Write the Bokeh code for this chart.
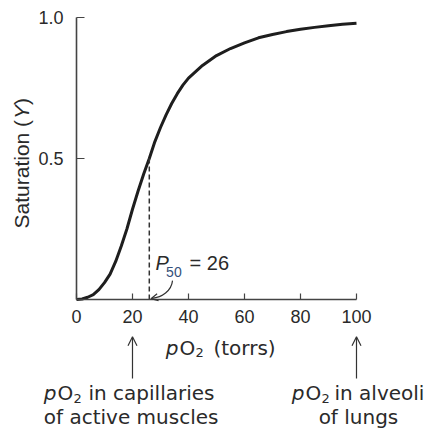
import math
from bokeh.plotting import figure
from bokeh.models import Label, Arrow, OpenHead, FixedTicker, Range1d, LinearAxis
from bokeh.embed import file_html
from bokeh.resources import INLINE

# ---- data ----
po2 = [0, 2, 4, 6, 8, 10, 12, 14, 16, 18, 20, 22, 24, 26, 28, 30, 32, 34, 36, 38, 40,
       45, 50, 55, 60, 65, 70, 75, 80, 85, 90, 95, 100]
saturation = [0, 0.002, 0.008, 0.017, 0.035, 0.06, 0.09, 0.135, 0.19, 0.25, 0.32, 0.385,
              0.445, 0.5, 0.56, 0.61, 0.655, 0.695, 0.73, 0.76, 0.785,
              0.83, 0.865, 0.89, 0.91, 0.928, 0.94, 0.95, 0.958, 0.965, 0.971, 0.976, 0.98]
x_ticks = [0, 20, 40, 60, 80, 100]
y_ticks = [0.5, 1.0]
y_tick_labels = {0.5: "0.5", 1.0: "1.0"}
P50 = 26
Y50 = 0.5
capillary_po2 = 20
alveoli_po2 = 100

TXT = "#2a2a2a"
AX = "#444444"

p = figure(width=430, height=430, output_backend="svg", toolbar_location=None,
           x_range=Range1d(-27.14, 126.43), y_range=Range1d(-0.4645, 1.0603),
           x_axis_location=None, y_axis_location=None,
           min_border=0, min_border_left=0, min_border_right=0,
           min_border_top=0, min_border_bottom=0)
p.outline_line_color = None
p.grid.grid_line_color = None
p.background_fill_color = "white"
p.border_fill_color = "white"

xa = LinearAxis(fixed_location=0, bounds=(0, 100))
xa.ticker = FixedTicker(ticks=x_ticks)
xa.major_tick_in = 6
xa.major_tick_out = 0
xa.minor_tick_line_color = None
xa.axis_line_color = AX
xa.axis_line_width = 1.6
xa.major_tick_line_color = AX
xa.major_tick_line_width = 1.2
xa.major_label_text_font = "Liberation Sans"
xa.major_label_text_font_size = "18px"
xa.major_label_text_color = TXT
xa.major_label_standoff = 10
p.add_layout(xa, "below")

ya = LinearAxis(fixed_location=0, bounds=(0, 1))
ya.ticker = FixedTicker(ticks=y_ticks)
ya.major_label_overrides = y_tick_labels
ya.major_tick_in = 8
ya.major_tick_out = 0
ya.minor_tick_line_color = None
ya.axis_line_color = AX
ya.axis_line_width = 1.6
ya.major_tick_line_color = AX
ya.major_tick_line_width = 1.2
ya.major_label_text_font = "Liberation Sans"
ya.major_label_text_font_size = "18px"
ya.major_label_text_color = TXT
ya.major_label_standoff = 13
p.add_layout(ya, "left")

# curve
p.line(po2, saturation, line_color="#1e1e1e", line_width=3)
# dashed P50 line
p.segment(x0=[P50], y0=[0], x1=[P50], y1=[Y50], line_color="#333333", line_width=1.5,
          line_dash="5 3")

# P50 label
p.add_layout(Label(x=28.2, y=0.131, text="P", text_font="Liberation Sans", text_font_style="italic",
                   text_font_size="20px", text_color=TXT, text_baseline="middle", text_align="left"))
p.add_layout(Label(x=32.0, y=0.096, text="50", text_font="Liberation Sans",
                   text_font_size="14px", text_color="#34507a", text_baseline="middle", text_align="left"))
p.add_layout(Label(x=40.4, y=0.131, text="= 26", text_font="Liberation Sans",
                   text_font_size="20px", text_color=TXT, text_baseline="middle", text_align="left"))
# curved leader
p.bezier(x0=[34.3], y0=[0.067], x1=[27.0], y1=[0.004], cx0=[33.9], cy0=[0.03], cx1=[30.5], cy1=[0.008],
         line_color="#333333", line_width=1.2)
p.add_layout(Arrow(end=OpenHead(size=7, line_width=1.2, line_color="#333333"),
                   x_start=28.5, y_start=0.007, x_end=26.6, y_end=0.003, line_alpha=0))

base = dict(text_font="DejaVu Sans", text_font_size="20px", text_color=TXT, text_baseline="middle")
sub = dict(text_font="DejaVu Sans", text_font_size="13px", text_color=TXT, text_baseline="middle")


def po2_text(x_p, x_o, x_2, x_rest, y, y_sub, rest):
    p.add_layout(Label(x=x_p, y=y, text="p", text_font_style="italic", text_align="right", **base))
    p.add_layout(Label(x=x_o, y=y, text="O", text_align="left", **base))
    p.add_layout(Label(x=x_2, y=y_sub, text="2", text_align="left", **sub))
    p.add_layout(Label(x=x_rest, y=y, text=rest, text_align="left", **base))


# x axis title: pO2 (torrs)
po2_text(36.43, 36.8, 42.5, 48.9, -0.172, -0.188, "(torrs)")

# y axis title: Saturation (Y)
ylab_x = -19.6
ylab = dict(text_font="Liberation Sans", text_font_size="21px", text_color=TXT,
            text_baseline="middle", text_align="left", angle=math.pi / 2)
p.add_layout(Label(x=ylab_x, y=0.252, text="Saturation (", **ylab))
p.add_layout(Label(x=ylab_x, y=0.64, text="Y", text_font_style="italic", **ylab))
p.add_layout(Label(x=ylab_x, y=0.69, text=")", **ylab))

# arrows
for xv in (capillary_po2, alveoli_po2):
    p.add_layout(Arrow(end=OpenHead(size=9, line_width=1.2, line_color="#333333"),
                       x_start=xv, y_start=-0.28, x_end=xv, y_end=-0.132,
                       line_color="#333333", line_width=1.2))

# left annotation
po2_text(-7.14, -6.79, -1.07, 4.29, -0.332, -0.351, "in capillaries")
p.add_layout(Label(x=capillary_po2 - 0.5, y=-0.415, text="of active muscles", text_align="center", **base))
# right annotation
po2_text(81.43, 81.79, 87.5, 92.14, -0.332, -0.351, "in alveoli")
p.add_layout(Label(x=alveoli_po2 + 0.7, y=-0.415, text="of lungs", text_align="center", **base))

open("out.html", "w").write(file_html(p, INLINE))
